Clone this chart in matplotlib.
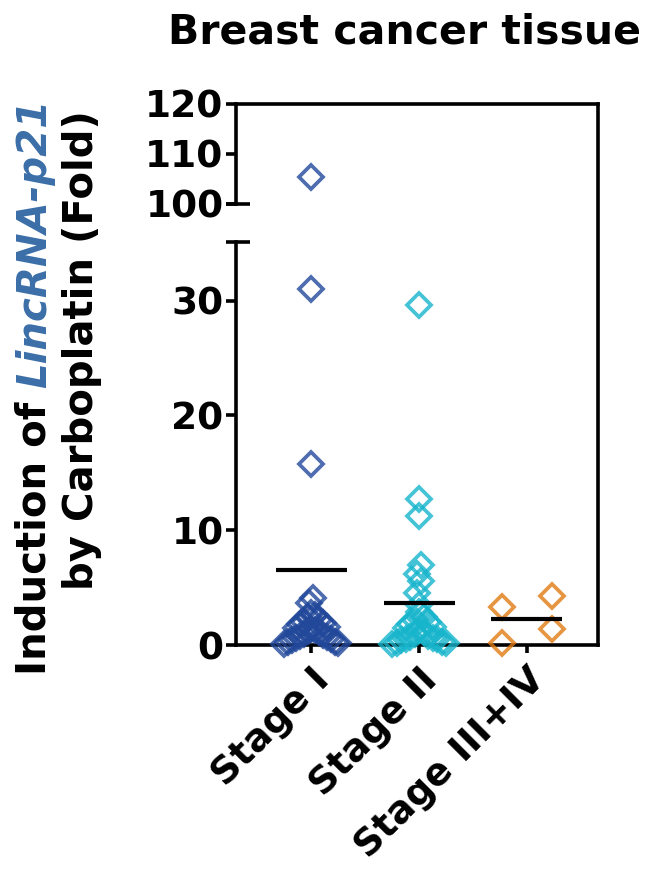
import numpy as np
import matplotlib
matplotlib.use("Agg")
import matplotlib.pyplot as plt

plt.rcParams["font.family"] = ["DejaVu Sans"]
plt.rcParams["font.weight"] = "bold"

groups = ["Stage I", "Stage II", "Stage III+IV"]
stage1 = [105.5, 31.0, 15.8, 4.1, 3.7, 2.8, 2.6, 2.4, 2.2, 2.0, 1.9, 1.8, 1.6, 1.5, 1.4,
          1.3, 1.2, 1.1, 1.0, 0.9, 0.8, 0.7, 0.6, 0.5, 0.4, 0.3, 0.3, 0.2, 0.1]
stage2 = [29.6, 12.7, 11.2, 7.0, 6.2, 5.6, 4.5, 3.5, 2.9, 2.4, 2.2, 2.0, 1.8, 1.6, 1.5,
          1.3, 1.1, 1.0, 0.8, 0.7, 0.6, 0.5, 0.5, 0.4, 0.3, 0.2, 0.2, 0.1]
stage34 = [3.3, 0.2, 4.3, 1.4]
values = [stage1, stage2, stage34]
colors = ["#22489a", "#17b5cc", "#e07b12"]
low_ticks = [0, 10, 20, 30]
high_ticks = [100, 110, 120]


def spread(vals, binw=1.5, width=0.5, step=0.46):
    # GraphPad-like scatter: bin by value, spread points of a bin sideways
    vals = np.asarray(vals, float)
    off = np.zeros(len(vals))
    bins = np.floor(vals / binw)
    kmax = max(np.sum(bins == b) for b in np.unique(bins))
    s = step if kmax < 2 else min(step, width / (kmax - 1))
    for b in np.unique(bins):
        idx = np.where(bins == b)[0]
        k = len(idx)
        if k == 1:
            continue
        o = (np.arange(k) - (k - 1) / 2) * s
        o = o[np.argsort(np.abs(o) - 1e-6 * o)]
        idx = idx[np.argsort(-vals[idx])]
        off[idx] = o
    return off


W, H = 654, 876
fig = plt.figure(figsize=(W / 100, H / 100), dpi=100)
left, right = 236 / W, 598 / W
hi_b, hi_t = 1 - 204 / H, 1 - 104 / H
lo_b, lo_t = 1 - 645 / H, 1 - 242 / H
lw = 2.6
xlim = (-0.7, 2.66)

frame = fig.add_axes([left, lo_b, right - left, hi_t - lo_b], zorder=0)
frame.set_xticks([]); frame.set_yticks([])
frame.spines["left"].set_visible(False)
frame.spines["bottom"].set_visible(False)
for sp in ("top", "right"):
    frame.spines[sp].set_linewidth(lw)

ax_hi = fig.add_axes([left, hi_b, right - left, hi_t - hi_b], zorder=2)
ax_lo = fig.add_axes([left, lo_b, right - left, lo_t - lo_b], zorder=2)
for ax in (ax_hi, ax_lo):
    ax.patch.set_visible(False)
    ax.set_xlim(*xlim)
    for sp in ("top", "right"):
        ax.spines[sp].set_visible(False)
    ax.spines["left"].set_linewidth(lw)
    ax.spines["bottom"].set_linewidth(lw)
    ax.tick_params(axis="y", length=7, width=lw, labelsize=27, pad=2)
ax_hi.spines["bottom"].set_visible(False)
ax_hi.set_xticks([])
ax_hi.set_ylim(100, 120)
ax_hi.set_yticks(high_ticks)
ax_lo.set_ylim(0, 35.1)
ax_lo.set_yticks(low_ticks)
ax_lo.set_xticks(range(len(groups)))
ax_lo.set_xticklabels(groups, rotation=45, ha="right", rotation_mode="anchor", fontsize=27)
ax_lo.tick_params(axis="x", length=6, width=lw, pad=6)

# break caps on the left axis
ax_hi.plot([-0.028, 0.04], [0, 0], transform=ax_hi.transAxes, color="black", lw=lw, clip_on=False, solid_capstyle="butt")
ax_lo.plot([-0.028, 0.04], [1, 1], transform=ax_lo.transAxes, color="black", lw=lw, clip_on=False, solid_capstyle="butt")

for i, (vals, c) in enumerate(zip(values, colors)):
    v = np.asarray(vals, float)
    x = i + spread(v)
    for ax, m in ((ax_hi, v >= 100), (ax_lo, v <= 35.1)):
        ax.plot(x[m], v[m], ls="none", marker="D", ms=12.5, mfc="none", mec=c, mew=2.7,
                alpha=0.8, clip_on=False, zorder=3)
    ax_lo.hlines(np.mean(v), i - 0.33, i + 0.33, color="black", lw=3, zorder=4)

fig.text(0.618, 1 - 44 / H, "Breast cancer tissue", ha="center", va="baseline", fontsize=29.5)

t1 = fig.text(15 / W, 1 - 675 / H, "Induction of ", rotation=90, ha="left", va="bottom", fontsize=29)
ax_lo.annotate("LincRNA-p21", xy=(0, 1), xycoords=t1, rotation=90, ha="left", va="bottom",
               fontsize=29, style="italic", color="#3b6ea8", annotation_clip=False)
fig.text(62 / W, 1 - 590 / H, "by Carboplatin (Fold)", rotation=90, ha="left", va="bottom", fontsize=29)

fig.savefig("out.png", dpi=100)
